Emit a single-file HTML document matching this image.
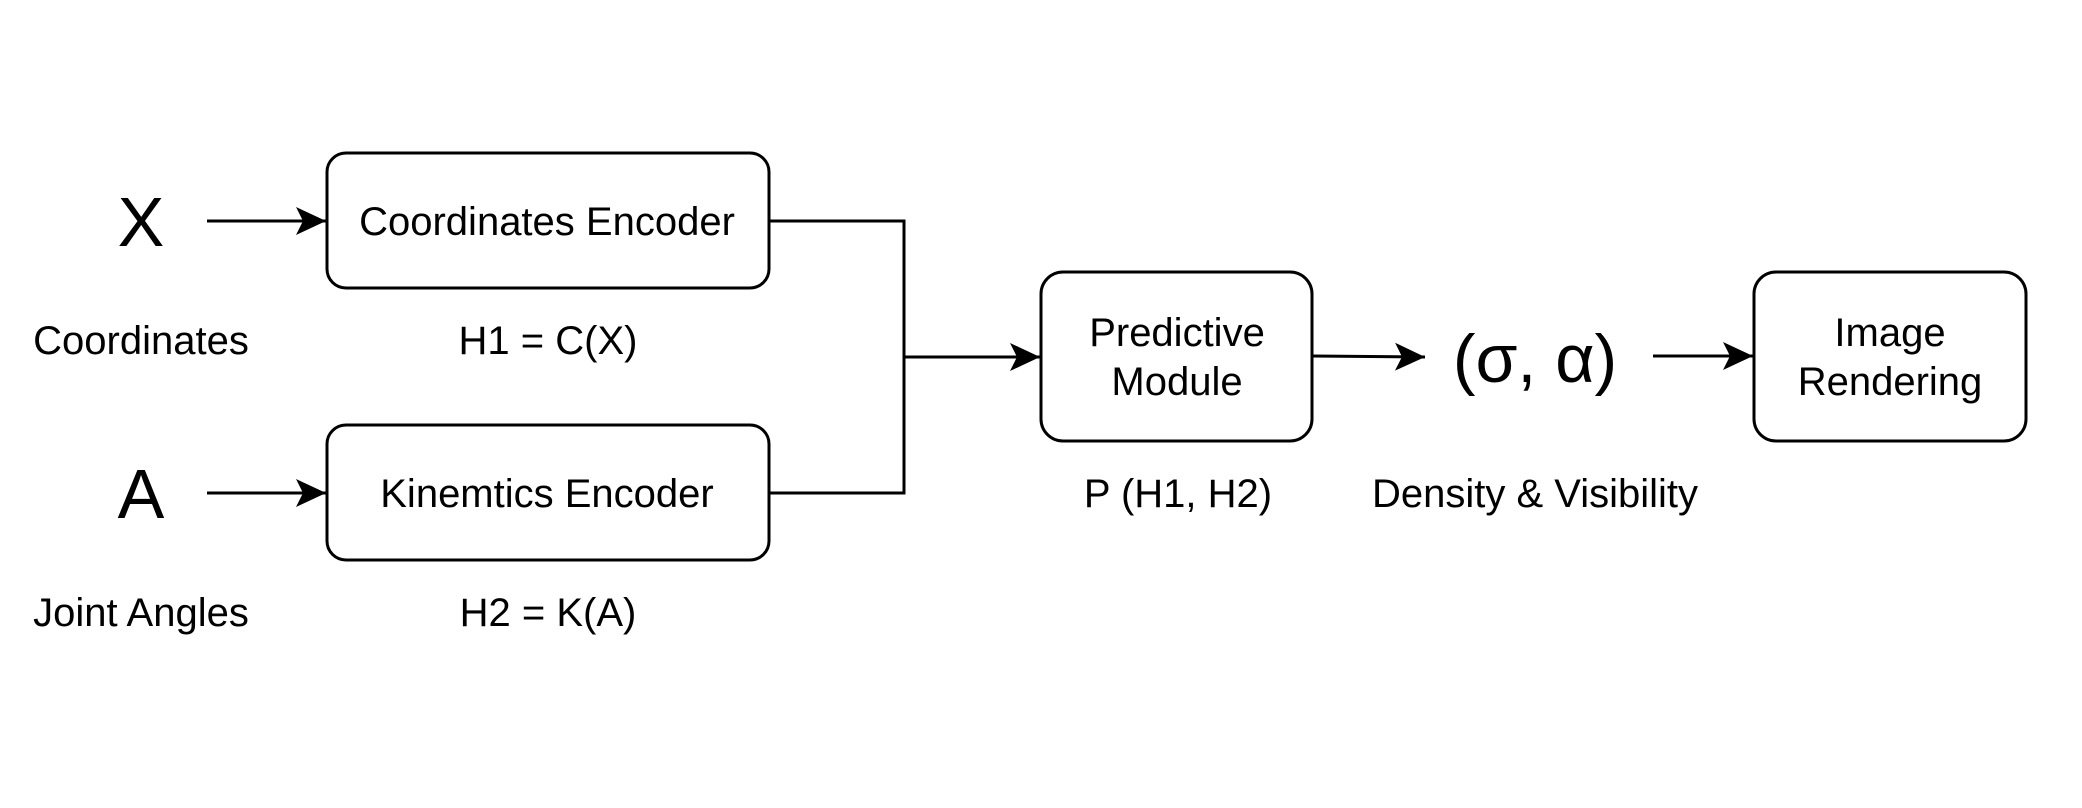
<!DOCTYPE html>
<html><head><style>
html,body{margin:0;padding:0;background:#fff;}
svg{display:block;}
text{font-family:"Liberation Sans",Arial,sans-serif;fill:#000;}
</style></head><body>
<svg width="2082" height="808" viewBox="0 0 2082 808" xmlns="http://www.w3.org/2000/svg">
<defs>
<marker id="ah" markerUnits="userSpaceOnUse" markerWidth="32" markerHeight="28" refX="30" refY="14" orient="auto">
<path d="M0,0 L30,14 L0,28 L7,14 Z" fill="#000"/>
</marker>
</defs>
<g fill="none" stroke="#000" stroke-width="3">
<rect x="327" y="153" width="442" height="135" rx="19"/>
<rect x="327" y="425" width="442" height="135" rx="19"/>
<rect x="1041" y="272" width="271" height="169" rx="22"/>
<rect x="1754" y="272" width="272" height="169" rx="22"/>
<line x1="207" y1="221" x2="326" y2="221" marker-end="url(#ah)"/>
<line x1="207" y1="493" x2="326" y2="493" marker-end="url(#ah)"/>
<polyline points="769,221 904,221 904,493 769,493"/>
<line x1="904" y1="357" x2="1040" y2="357" marker-end="url(#ah)"/>
<line x1="1312" y1="356" x2="1425" y2="357" marker-end="url(#ah)"/>
<line x1="1653" y1="356" x2="1753" y2="356" marker-end="url(#ah)"/>
</g>
<g text-anchor="middle" dominant-baseline="central">
<text x="141" y="222" font-size="70">X</text>
<text x="141" y="494" font-size="70">A</text>
<text x="141" y="341" font-size="40">Coordinates</text>
<text x="141" y="613" font-size="40">Joint Angles</text>
<text x="547" y="222" font-size="40">Coordinates Encoder</text>
<text x="547" y="494" font-size="40">Kinemtics Encoder</text>
<text x="548" y="341" font-size="40">H1 = C(X)</text>
<text x="548" y="613" font-size="40">H2 = K(A)</text>
<text x="1177" y="333" font-size="40">Predictive</text>
<text x="1177" y="382" font-size="40">Module</text>
<text x="1178" y="494" font-size="40">P (H1, H2)</text>
<text x="1535" y="359" font-size="68">(σ, α)</text>
<text x="1535" y="494" font-size="40">Density &amp; Visibility</text>
<text x="1890" y="333" font-size="40">Image</text>
<text x="1890" y="382" font-size="40">Rendering</text>
</g>
</svg>
</body></html>
